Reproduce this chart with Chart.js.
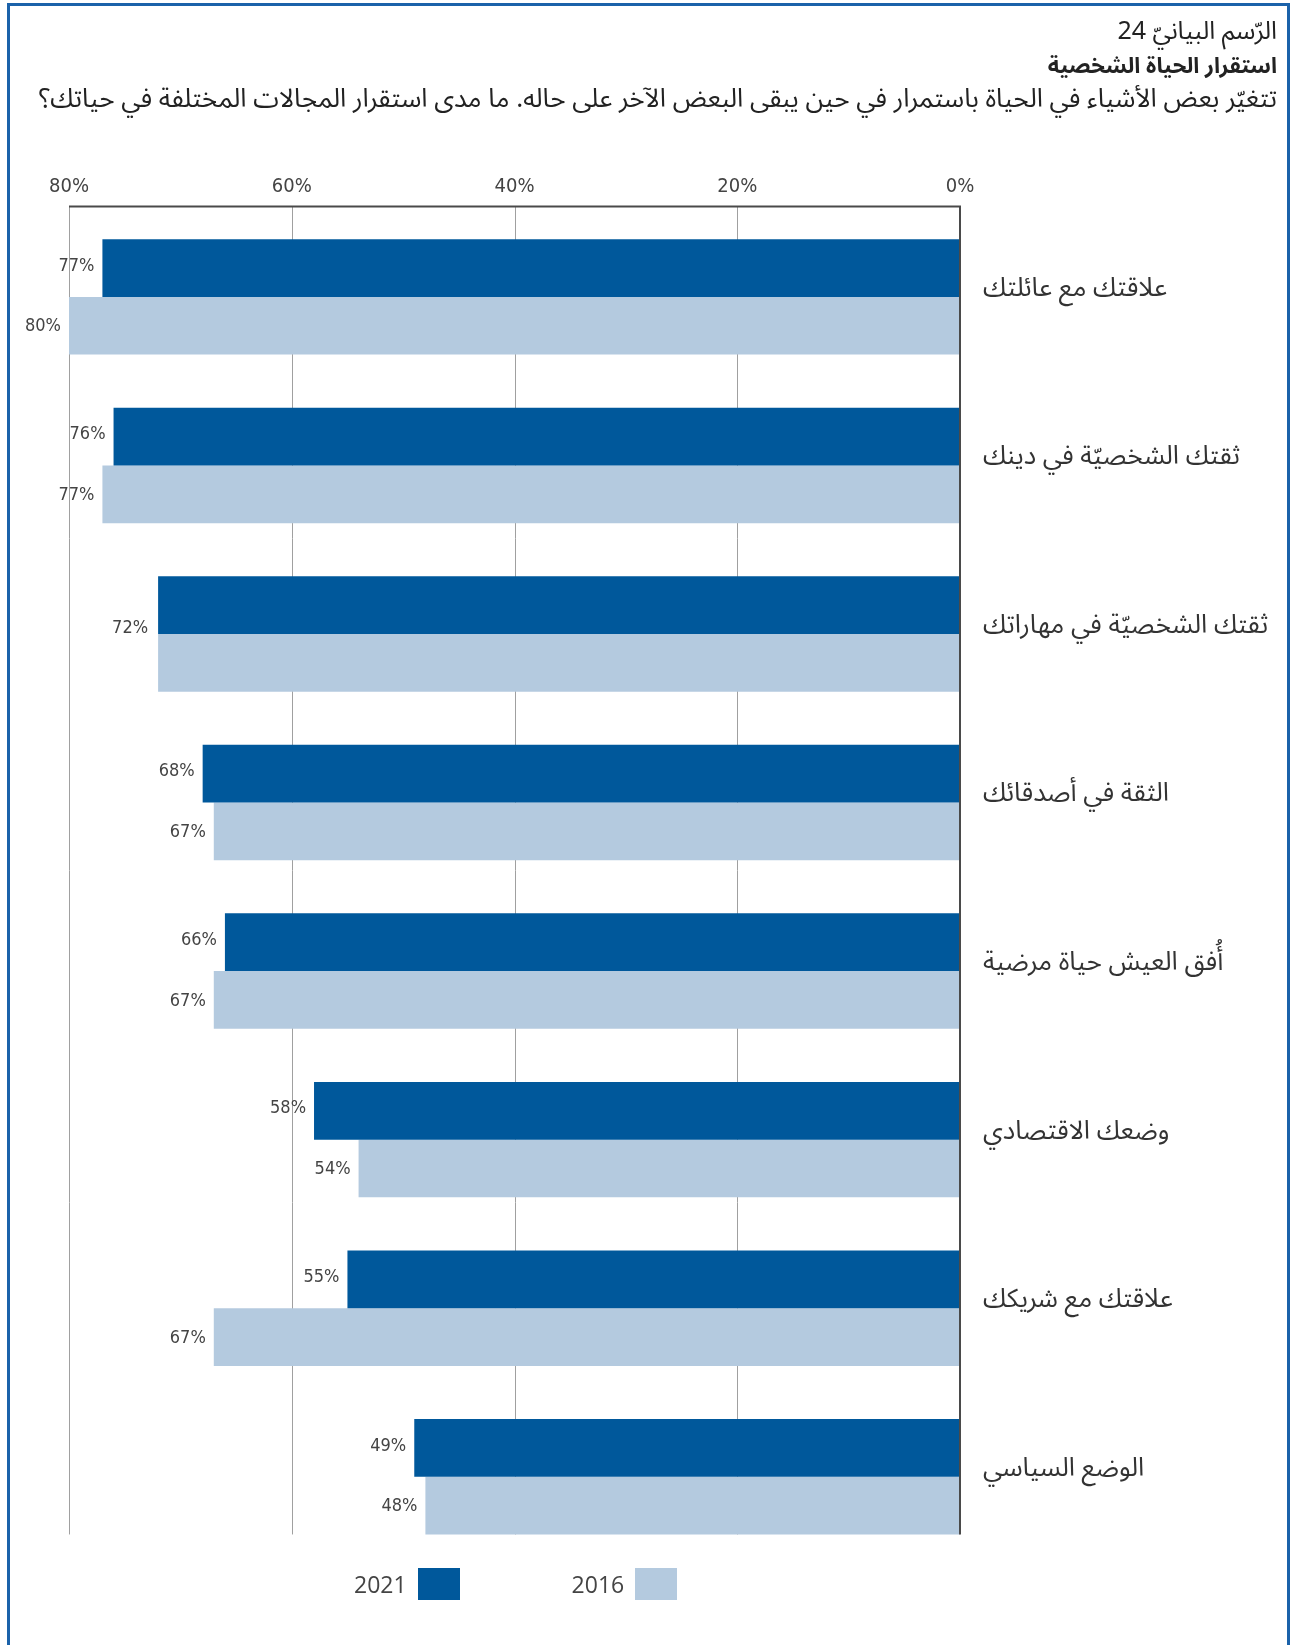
<!DOCTYPE html>
<html lang="ar">
<head>
<meta charset="utf-8">
<title>استقرار الحياة الشخصية</title>
<script src="https://cdn.jsdelivr.net/npm/chart.js@4.4.1/dist/chart.umd.min.js"></script>
<style>
    body { margin: 0; background: #fff; }
    #page { position: relative; width: 1293px; height: 1645px; overflow: hidden; }
    #frame {
        position: absolute; left: 7px; top: 3px; width: 1283px; height: 1660px;
        border: 3px solid #1b62aa; border-bottom: none; box-sizing: border-box;
    }
    .head {
        position: absolute; right: 16px; direction: rtl; text-align: right; line-height: 40px;
        font-family: "Noto Sans Arabic", "DejaVu Sans", sans-serif; color: #222; white-space: nowrap;
    }
    #h1 { top: 11px; font-size: 25px; }
    #h2 { top: 46px; font-size: 22px; font-weight: bold; }
    #h3 { top: 79px; font-size: 26px; }
    #chart-box { position: absolute; left: 0; top: 0; width: 1293px; height: 1645px; }
    #legend {
        position: absolute; left: 354px; top: 1568px; display: flex; align-items: center;
        font-family: "Open Sans", "Noto Sans", sans-serif; font-size: 23px; color: #444;
    }
    .legend-item { display: flex; align-items: center; margin-right: 112px; }
    .legend-box { width: 42px; height: 32px; margin-left: 11px; }
</style>
</head>
<body>
<div id="page">
    <div id="chart-box"><canvas id="stability-chart"></canvas></div>
    <div id="frame"></div>
    <div class="head" id="h1">الرّسم البيانيّ 24</div>
    <div class="head" id="h2">استقرار الحياة الشخصية</div>
    <div class="head" id="h3">تتغيّر بعض الأشياء في الحياة باستمرار في حين يبقى البعض الآخر على حاله.  ما مدى استقرار المجالات المختلفة في حياتك؟</div>
    <div id="legend"></div>
</div>

<script>
// Chart data
const categories = [
    'علاقتك مع عائلتك',
    'ثقتك الشخصيّة في دينك',
    'ثقتك الشخصيّة في مهاراتك',
    'الثقة في أصدقائك',
    'أُفق العيش حياة مرضية',
    'وضعك الاقتصادي',
    'علاقتك مع شريكك',
    'الوضع السياسي'
];
const values2021 = [77, 76, 72, 68, 66, 58, 55, 49];
const values2016 = [80, 77, 72, 67, 67, 54, 67, 48];
const seriesLabels = ['2021', '2016'];
const seriesColors = ['#00589b', '#b4cadf'];
const tickValues = [0, 20, 40, 60, 80];

const narrowFont = '"Liberation Sans Narrow", "DejaVu Sans Condensed", "Open Sans", sans-serif';

// Grid lines, axis lines and value labels
const gridPlugin = {
    id: 'gridLines',
    beforeDatasetsDraw(chart) {
        const { ctx, chartArea, scales } = chart;
        const bottom = lastBarBottom(chart);
        const top = chartArea.top - 6;
        ctx.save();
        ctx.strokeStyle = '#a0a0a0';
        ctx.lineWidth = 1;
        tickValues.filter(v => v > 0).forEach(v => {
            const x = Math.round(scales.x.getPixelForValue(v)) + 0.5;
            ctx.beginPath();
            ctx.moveTo(x, top);
            ctx.lineTo(x, bottom);
            ctx.stroke();
        });
        ctx.restore();
    },
    afterDatasetsDraw(chart) {
        const { ctx, chartArea, scales } = chart;
        const bottom = lastBarBottom(chart);
        const top = chartArea.top - 6;
        const x0 = scales.x.getPixelForValue(0);
        const xMax = scales.x.getPixelForValue(tickValues[tickValues.length - 1]);
        ctx.save();
        ctx.strokeStyle = '#4a4a4a';
        ctx.lineWidth = 2;
        ctx.beginPath();
        ctx.moveTo(xMax, top);
        ctx.lineTo(x0, top);
        ctx.lineTo(x0, bottom);
        ctx.stroke();

        // value labels left of each bar
        ctx.font = '18px ' + narrowFont;
        ctx.fillStyle = '#444';
        ctx.textAlign = 'right';
        ctx.textBaseline = 'middle';
        const darkBars = chart.getDatasetMeta(0).data;
        const lightBars = chart.getDatasetMeta(1).data;
        categories.forEach((c, i) => {
            const a = darkBars[i], b = lightBars[i];
            if (values2021[i] === values2016[i]) {
                ctx.fillText(values2021[i] + '%', a.x - 10, (a.y + b.y) / 2 - 6);
            } else {
                ctx.fillText(values2021[i] + '%', a.x - 8, a.y - 2);
                ctx.fillText(values2016[i] + '%', b.x - 8, b.y + 1);
            }
        });
        ctx.restore();
    }
};

function lastBarBottom(chart) {
    const bars = chart.getDatasetMeta(1).data;
    const bar = bars[bars.length - 1];
    return bar.y + bar.height / 2;
}

function buildLegend() {
    const legend = document.getElementById('legend');
    legend.innerHTML = seriesLabels.map((label, i) => `
        <div class="legend-item">
            <span>${label}</span>
            <span class="legend-box" style="background: ${seriesColors[i]}"></span>
        </div>
    `).join('');
}

function drawChart() {
    const ctx = document.getElementById('stability-chart').getContext('2d');

    new Chart(ctx, {
        type: 'bar',
        data: {
            labels: categories,
            datasets: [
                {
                    label: seriesLabels[0],
                    data: values2021,
                    backgroundColor: seriesColors[0],
                    categoryPercentage: 0.685,
                    barPercentage: 1
                },
                {
                    label: seriesLabels[1],
                    data: values2016,
                    backgroundColor: seriesColors[1],
                    categoryPercentage: 0.685,
                    barPercentage: 1
                }
            ]
        },
        options: {
            indexAxis: 'y',
            responsive: true,
            maintainAspectRatio: false,
            animation: false,
            layout: {
                padding: { top: 0, left: 69, right: 0, bottom: 84 }
            },
            plugins: {
                legend: { display: false },
                tooltip: { enabled: false }
            },
            scales: {
                x: {
                    type: 'linear',
                    position: 'top',
                    reverse: true,
                    min: 0,
                    max: 80,
                    afterFit: scale => { scale.height = 212.6; },
                    afterBuildTicks: scale => {
                        scale.ticks = tickValues.map(v => ({ value: v }));
                    },
                    ticks: {
                        padding: 6,
                        color: '#444',
                        font: { family: narrowFont, size: 20 },
                        callback: v => v + '%'
                    },
                    grid: { display: false },
                    border: { display: false }
                },
                y: {
                    position: 'right',
                    afterFit: scale => { scale.width = 333; },
                    ticks: {
                        crossAlign: 'near',
                        padding: 15,
                        labelOffset: -5,
                        color: '#333',
                        font: { family: '"Noto Sans Arabic", "DejaVu Sans", sans-serif', size: 26 }
                    },
                    grid: { display: false },
                    border: { display: false }
                }
            }
        },
        plugins: [gridPlugin]
    });
}

document.addEventListener('DOMContentLoaded', function() {
    buildLegend();
    drawChart();
});
</script>
</body>
</html>
